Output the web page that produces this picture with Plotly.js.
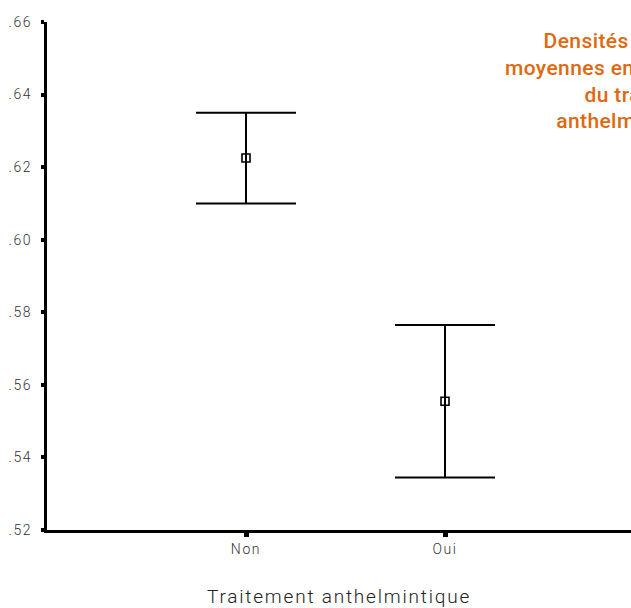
<!DOCTYPE html>
<html>
<head>
<meta charset="utf-8">
<script src="https://cdn.plot.ly/plotly-3.0.1.min.js"></script>
<style>
html,body{margin:0;padding:0;background:#fff;overflow:hidden}
g.xtick text, g.ytick text {letter-spacing:1.6px}
text.xtitle {letter-spacing:1.8px}
g.annotation text {letter-spacing:0.4px}
</style>
</head>
<body>
<div id="chart" style="width:631px;height:608px"></div>
<script>
const categories = ["Non", "Oui"];
const catPos = [0, 1];
const means = [0.6225, 0.5555];
const upper = [0.6350, 0.5765];
const lower = [0.6100, 0.5345];
const yTickVals = [0.52, 0.54, 0.56, 0.58, 0.60, 0.62, 0.64, 0.66];
const yTickText = [".52", ".54", ".56", ".58", ".60", ".62", ".64", ".66"];
const titleLines = ["Densités optiques", "moyennes en fonction", "du traitement", "anthelmintique"];

const errPlus = means.map((m, i) => upper[i] - m);
const errMinus = means.map((m, i) => m - lower[i]);

const trace = {
  x: catPos, y: means, type: "scatter", mode: "markers",
  marker: {symbol: "square-open", size: 8, color: "#000", line: {width: 1.6, color: "#000"}},
  error_y: {type: "data", symmetric: false, array: errPlus, arrayminus: errMinus,
            color: "#000", thickness: 2, width: 50},
  hoverinfo: "skip"
};

const L = 47, W = 631, T = 22, H = 608, B = 78;
const pw = W - L, ph = H - T - B;
const lineLeft = [545, 507, 585, 557];
const lineY = [41, 68, 95, 121];
const annotations = titleLines.map((t, i) => ({
  text: t, xref: "paper", yref: "paper",
  x: (lineLeft[i] - L) / pw, y: 1 - (lineY[i] - T) / ph,
  xanchor: "left", yanchor: "middle", showarrow: false,
  font: {family: "Roboto", size: 21, color: "#E0680F", weight: 500}
}));

const layout = {
  width: 631, height: 608,
  margin: {l: L, r: 0, t: T, b: B},
  paper_bgcolor: "#fff", plot_bgcolor: "#fff",
  showlegend: false,
  xaxis: {
    range: [-1, 1 + (631 - 445) / 199], tickvals: catPos, ticktext: categories,
    showgrid: false, zeroline: false, showline: true, linecolor: "#000", linewidth: 3,
    ticks: "outside", ticklen: 4, tickwidth: 5, tickcolor: "#000",
    tickfont: {family: "Roboto", size: 14, color: "#333", weight: 300},
    title: {text: "Traitement anthelmintique", standoff: 34,
            font: {family: "Roboto", size: 19, color: "#222", weight: 300}}
  },
  yaxis: {
    range: [0.52, 0.66], tickvals: yTickVals, ticktext: yTickText,
    showgrid: false, zeroline: false, showline: true, linecolor: "#000", linewidth: 3,
    ticks: "outside", ticklen: 3, tickwidth: 4, tickcolor: "#000",
    ticklabelstandoff: 6,
    tickfont: {family: "Roboto", size: 14, color: "#333", weight: 300}
  },
  annotations: annotations
};

Plotly.newPlot("chart", [trace], layout, {displayModeBar: false, staticPlot: true});
</script>
</body>
</html>
